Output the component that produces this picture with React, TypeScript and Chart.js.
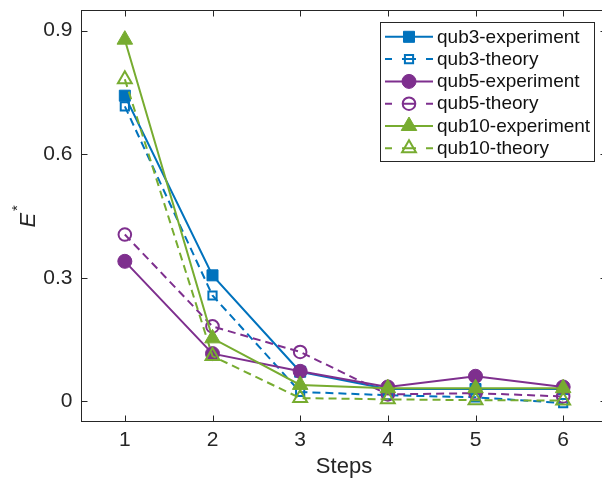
import React, { useEffect, useRef } from 'react';
import { Chart, registerables } from 'chart.js';
import { drawPoint } from 'chart.js/helpers';

Chart.register(...registerables);

const steps = [1, 2, 3, 4, 5, 6];
const qub3Experiment = [0.742, 0.306, 0.072, 0.03, 0.03, 0.03];
const qub3Theory = [0.716, 0.257, 0.023, 0.015, 0.01, -0.004];
const qub5Experiment = [0.34, 0.116, 0.073, 0.035, 0.061, 0.035];
const qub5Theory = [0.405, 0.182, 0.12, 0.017, 0.02, 0.012];
const qub10Experiment = [0.878, 0.153, 0.04, 0.032, 0.032, 0.032];
const qub10Theory = [0.782, 0.11, 0.008, 0.005, 0.003, 0.002];
const seriesLabels = [
  'qub3-experiment',
  'qub3-theory',
  'qub5-experiment',
  'qub5-theory',
  'qub10-experiment',
  'qub10-theory',
];
const xTicks = [1, 2, 3, 4, 5, 6];
const yTicks = [0, 0.3, 0.6, 0.9];
const xTitle = 'Steps';

const BLUE = '#0072BD';
const PURPLE = '#7E2F8E';
const GREEN = '#77AC30';
const AXIS = '#262626';
const FONT = "'Liberation Sans', Arial, Helvetica, sans-serif";

// the plot box's right edge lies just beyond the visible page, as in the reference
const AREA_RIGHT = 607;

const toPts = (arr: number[]) => steps.map((s, i) => ({ x: s, y: arr[i] }));

function makeDataset(
  label: string,
  values: number[],
  color: string,
  style: string,
  filled: boolean,
  radius: number,
  idx: number
) {
  return {
    label,
    data: toPts(values),
    borderColor: color,
    backgroundColor: color,
    borderWidth: 2,
    borderDash: filled ? [] : [8, 5],
    pointStyle: style,
    pointRadius: radius,
    pointBorderColor: color,
    pointBackgroundColor: filled ? color : 'rgba(0,0,0,0)',
    pointBorderWidth: filled ? 1 : 2,
    tension: 0,
    order: 5 - idx,
  };
}

const areaPlugin = {
  id: 'fixArea',
  afterLayout(chart: any) {
    const ca = chart.chartArea;
    if (!ca) return;
    if (Math.abs(ca.right - AREA_RIGHT) > 0.01) {
      ca.right = AREA_RIGHT;
      ca.width = ca.right - ca.left;
      const x = chart.scales.x;
      if (x) {
        x.right = AREA_RIGHT;
        x.width = x.right - x.left;
        x.configure();
      }
    }
  },
};

const framePlugin = {
  id: 'matlabFrame',
  afterDatasetsDraw(chart: any) {
    const { ctx, chartArea, scales } = chart;
    const { left, right, top, bottom } = chartArea;
    const L = Math.round(left) + 0.5;
    const R = Math.round(right) - 0.5;
    const T = Math.round(top) + 0.5;
    const B = Math.round(bottom) - 0.5;
    const tl = 6;
    ctx.save();
    ctx.strokeStyle = AXIS;
    ctx.lineWidth = 1;
    ctx.setLineDash([]);
    ctx.strokeRect(L, T, R - L, B - T);
    ctx.beginPath();
    scales.x.ticks.forEach((t: any) => {
      const px = Math.round(scales.x.getPixelForValue(t.value)) + 0.5;
      ctx.moveTo(px, B);
      ctx.lineTo(px, B - tl);
      ctx.moveTo(px, T);
      ctx.lineTo(px, T + tl);
    });
    scales.y.ticks.forEach((t: any) => {
      const py = Math.round(scales.y.getPixelForValue(t.value)) + 0.5;
      ctx.moveTo(L, py);
      ctx.lineTo(L + tl, py);
      ctx.moveTo(R, py);
      ctx.lineTo(R - tl, py);
    });
    ctx.stroke();
    ctx.restore();
  },
};

const yTitlePlugin = {
  id: 'yTitle',
  afterDraw(chart: any) {
    const { ctx, chartArea } = chart;
    const cy = (chartArea.top + chartArea.bottom) / 2;
    ctx.save();
    ctx.translate(34.5, cy);
    ctx.rotate(-Math.PI / 2);
    ctx.fillStyle = AXIS;
    ctx.textBaseline = 'alphabetic';
    ctx.textAlign = 'left';
    ctx.font = `italic 22px ${FONT}`;
    ctx.fillText('E', -11.5, 0);
    ctx.font = `15px ${FONT}`;
    ctx.fillText('*', 5, -13);
    ctx.restore();
  },
};

const legendPlugin = {
  id: 'matlabLegend',
  afterDraw(chart: any) {
    const { ctx } = chart;
    const datasets = chart.data.datasets;
    const boxL = 380.5;
    const boxT = 22.5;
    const boxR = 594.5;
    const boxB = 161.5;
    const row0 = 36.8;
    const rowH = 22.3;
    const lineX0 = 385;
    const lineX1 = 433;
    const markX = 409;
    const textX = 437;
    ctx.save();
    ctx.fillStyle = '#ffffff';
    ctx.fillRect(boxL, boxT, boxR - boxL, boxB - boxT);
    ctx.strokeStyle = AXIS;
    ctx.lineWidth = 1;
    ctx.strokeRect(boxL, boxT, boxR - boxL, boxB - boxT);
    datasets.forEach((ds: any, i: number) => {
      const y = row0 + i * rowH;
      const dashed = ds.borderDash && ds.borderDash.length > 0;
      ctx.save();
      ctx.strokeStyle = ds.borderColor;
      ctx.lineWidth = ds.borderWidth;
      ctx.setLineDash(dashed ? [7, 10, 14, 10, 7, 200] : []);
      ctx.beginPath();
      ctx.moveTo(lineX0, y);
      ctx.lineTo(lineX1, y);
      ctx.stroke();
      ctx.setLineDash([]);
      ctx.fillStyle = ds.pointBackgroundColor;
      ctx.strokeStyle = ds.pointBorderColor;
      ctx.lineWidth = ds.pointBorderWidth;
      drawPoint(
        ctx,
        {
          pointStyle: ds.pointStyle,
          radius: ds.pointRadius,
          borderWidth: ds.pointBorderWidth,
          rotation: 0,
        } as any,
        markX,
        y
      );
      ctx.restore();
      ctx.fillStyle = '#111111';
      ctx.font = `19px ${FONT}`;
      ctx.textBaseline = 'middle';
      ctx.textAlign = 'left';
      ctx.fillText(ds.label, textX, y + 0.5);
    });
    ctx.restore();
  },
};

const zeroPad = (scale: any) => {
  scale.paddingLeft = 0;
  scale.paddingRight = 0;
  scale.paddingTop = 0;
  scale.paddingBottom = 0;
};

export default function App() {
  const ref = useRef<HTMLCanvasElement>(null);
  useEffect(() => {
    if (!ref.current) return;
    Chart.defaults.font.family = FONT;
    Chart.defaults.color = AXIS;
    const datasets = [
      makeDataset(seriesLabels[0], qub3Experiment, BLUE, 'rect', true, 7.8, 0),
      makeDataset(seriesLabels[1], qub3Theory, BLUE, 'rect', false, 5.8, 1),
      makeDataset(seriesLabels[2], qub5Experiment, PURPLE, 'circle', true, 7, 2),
      makeDataset(seriesLabels[3], qub5Theory, PURPLE, 'circle', false, 6.3, 3),
      makeDataset(seriesLabels[4], qub10Experiment, GREEN, 'triangle', true, 9, 4),
      makeDataset(seriesLabels[5], qub10Theory, GREEN, 'triangle', false, 8, 5),
    ];
    const chart = new Chart(ref.current, {
      type: 'line',
      data: { datasets: datasets as any },
      options: {
        responsive: false,
        devicePixelRatio: 1,
        animation: false,
        layout: { padding: { left: 0, top: 10, right: 5, bottom: 0 } },
        plugins: {
          legend: { display: false },
          title: { display: false },
          subtitle: { display: false },
          tooltip: { enabled: false },
        },
        scales: {
          x: {
            type: 'linear',
            min: 0.5,
            max: 6.5,
            grid: { display: false, drawTicks: false },
            border: { display: false },
            afterBuildTicks: (scale: any) => {
              scale.ticks = xTicks.map((v) => ({ value: v }));
            },
            afterFit: (scale: any) => {
              scale.height = 57;
              zeroPad(scale);
            },
            ticks: {
              padding: 6,
              color: AXIS,
              font: { size: 21 },
              maxRotation: 0,
              callback: (v: any) => String(v),
            },
            title: {
              display: true,
              text: xTitle,
              color: AXIS,
              font: { size: 22, lineHeight: 1 },
              padding: { top: 0, bottom: 1 },
            },
          },
          y: {
            type: 'linear',
            min: -0.05,
            max: 0.95,
            grid: { display: false, drawTicks: false },
            border: { display: false },
            afterBuildTicks: (scale: any) => {
              scale.ticks = yTicks.map((v) => ({ value: v }));
            },
            afterFit: (scale: any) => {
              scale.width = 81;
              zeroPad(scale);
            },
            ticks: {
              padding: 8.5,
              color: AXIS,
              font: { size: 21 },
              callback: (v: any) => String(v),
            },
          },
        },
      } as any,
      plugins: [areaPlugin, framePlugin, yTitlePlugin, legendPlugin],
    });
    return () => chart.destroy();
  }, []);
  return (
    <div
      style={{
        position: 'fixed',
        left: 0,
        top: 0,
        width: 602,
        height: 479,
        overflow: 'hidden',
        background: '#ffffff',
      }}
    >
      <canvas ref={ref} width={612} height={479} style={{ display: 'block', width: 612, height: 479 }} />
    </div>
  );
}
